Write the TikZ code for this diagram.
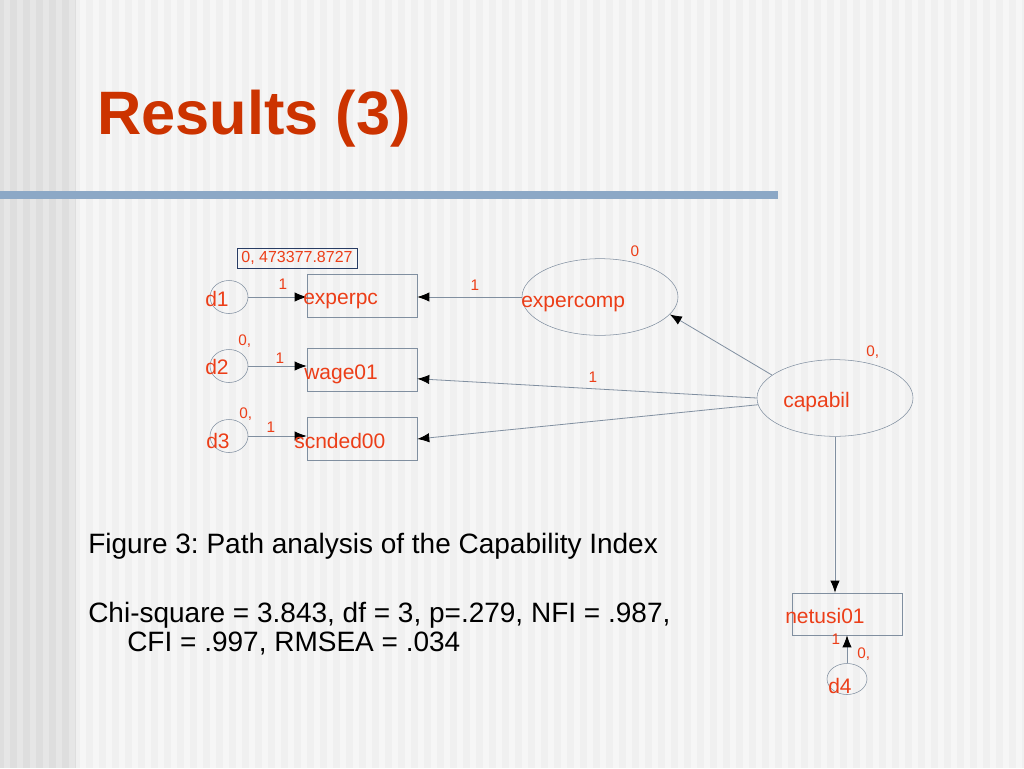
\documentclass[tikz,border=0pt]{standalone}
\usepackage{fontspec}
\setmainfont{Liberation Sans}
\usetikzlibrary{shapes.geometric,arrows.meta}
\definecolor{lblred}{RGB}{236,62,24}
\definecolor{titlered}{RGB}{204,51,0}
\definecolor{linegray}{RGB}{128,143,160}
\definecolor{boxnavy}{RGB}{40,60,100}
\definecolor{bgbase}{RGB}{240,240,240}
\definecolor{bgstripe}{RGB}{246,246,246}
\definecolor{stripdark}{RGB}{222,222,222}
\definecolor{stripdarktoo}{RGB}{230,230,230}
\definecolor{rulerblue}{RGB}{140,168,198}
\frenchspacing
\begin{document}
\begin{tikzpicture}[x=0.75pt,y=-0.75pt,
	varbox/.style={draw=linegray, rectangle, minimum width=82.5pt, minimum height=32.25pt, inner sep=0pt},
	errell/.style={draw=linegray, ellipse, minimum width=28.5pt, minimum height=24.75pt, inner sep=0pt},
	latent/.style={draw=linegray, ellipse, minimum width=117pt, minimum height=57.5pt, inner sep=0pt},
	lbl/.style={text=lblred, font=\fontsize{15.75}{18}\selectfont, inner sep=0pt, anchor=base west},
	num/.style={text=lblred, font=\fontsize{11.5}{13}\selectfont, inner sep=0pt, anchor=base},
	body/.style={font=\fontsize{21}{25}\selectfont, inner sep=0pt, anchor=base west},
	effect/.style={draw=linegray, line width=0.6pt, -{Latex[black,length=9pt,width=7pt]}}]
%		    background and rule
			\fill[bgbase] (0,0) rectangle (1024,768);
			\foreach \x in {80,93,...,1020} \fill[bgstripe] (\x,0) rectangle ++(6,768);
			\fill[stripdark] (0,0) rectangle (76,768);
			\foreach \x in {4,17,...,70} \fill[stripdarktoo] (\x,0) rectangle ++(6,768);
			\fill[rulerblue] (0,191) rectangle (778,199);
			\useasboundingbox (0,0) rectangle (1024,768);
			\node[anchor=base west, inner sep=0pt, text=titlered, font=\fontsize{46}{55}\selectfont\bfseries] (title) at (97,134) {Results (3)};
%		    path model
			\node[draw=boxnavy, text=lblred, font=\fontsize{12}{14}\selectfont, minimum width=90pt, minimum height=15pt, inner sep=1pt] (fixval) at (297,258) {0, 473377.8727};
			\node[errell] (d1) at (229,297) {};
			\node[errell] (d2) at (229,366) {};
			\node[errell] (d3) at (229,436) {};
			\node[varbox] (experpc) at (362,295.5) {};
			\node[varbox] (wage01) at (362,370) {};
			\node[varbox] (scnded00) at (362,439) {};
			\node[latent] (expercomp) at (600,297) {};
			\node[latent] (capabil) at (835,398) {};
			\node[varbox, minimum height=31.5pt] (netusi01) at (847,614) {};
			\node[errell, minimum width=30pt, minimum height=23.25pt] (d4) at (847,679) {};
			\draw[effect] (d1.east) -- (d1.east -| experpc.west);
			\draw[effect] (d2.east) -- (d2.east -| wage01.west);
			\draw[effect] (d3.east) -- (d3.east -| scnded00.west);
			\draw[effect] (expercomp.west) -- (expercomp.west -| experpc.east);
			\draw[effect] (capabil.160) -- (expercomp.-14);
			\draw[effect] (capabil.west) -- (wage01.-9);
			\draw[effect] (capabil.185) -- (scnded00.east);
			\draw[effect] (capabil.south) -- (capabil.south |- netusi01.north);
			\draw[effect] (d4.north) -- (netusi01.south);
%		    labels
			\node[lbl] (d1txt) at (205,306) {d1};
			\node[lbl] (d2txt) at (205,374) {d2};
			\node[lbl] (d3txt) at (206,448) {d3};
			\node[lbl] (d4txt) at (828,693) {d4};
			\node[lbl] (experpctxt) at (303,304) {experpc};
			\node[lbl] (wage01txt) at (304,379) {wage01};
			\node[lbl] (scnded00txt) at (294,448) {scnded00};
			\node[lbl] (expercomptxt) at (521,307) {expercomp};
			\node[lbl] (capabiltxt) at (783,407) {capabil};
			\node[lbl] (netusi01txt) at (785,623) {netusi01};
			\node[num] (wone) at (283,289) {1};
			\node[num] (wtwo) at (280,363) {1};
			\node[num] (wthree) at (271,432) {1};
			\node[num] (wfour) at (475,290) {1};
			\node[num] (wfive) at (593,382) {1};
			\node[num] (wsix) at (836,644) {1};
			\node[num, anchor=base west] (mtwo) at (238,345) {0,};
			\node[num, anchor=base west] (mthree) at (239,418) {0,};
			\node[num] (mexp) at (635,256) {0};
			\node[num, anchor=base west] (mcap) at (866,356) {0,};
			\node[num, anchor=base west] (mfour) at (857,658) {0,};
%		    caption
			\node[body] (caption) at (88,553) {Figure 3: Path analysis of the Capability Index};
			\node[body] (fitone) at (88,622) {Chi-square = 3.843, df = 3, p=.279, NFI = .987,};
			\node[body] (fittwo) at (127,651) {CFI = .997, RMSEA = .034};
		\end{tikzpicture}
\end{document}
